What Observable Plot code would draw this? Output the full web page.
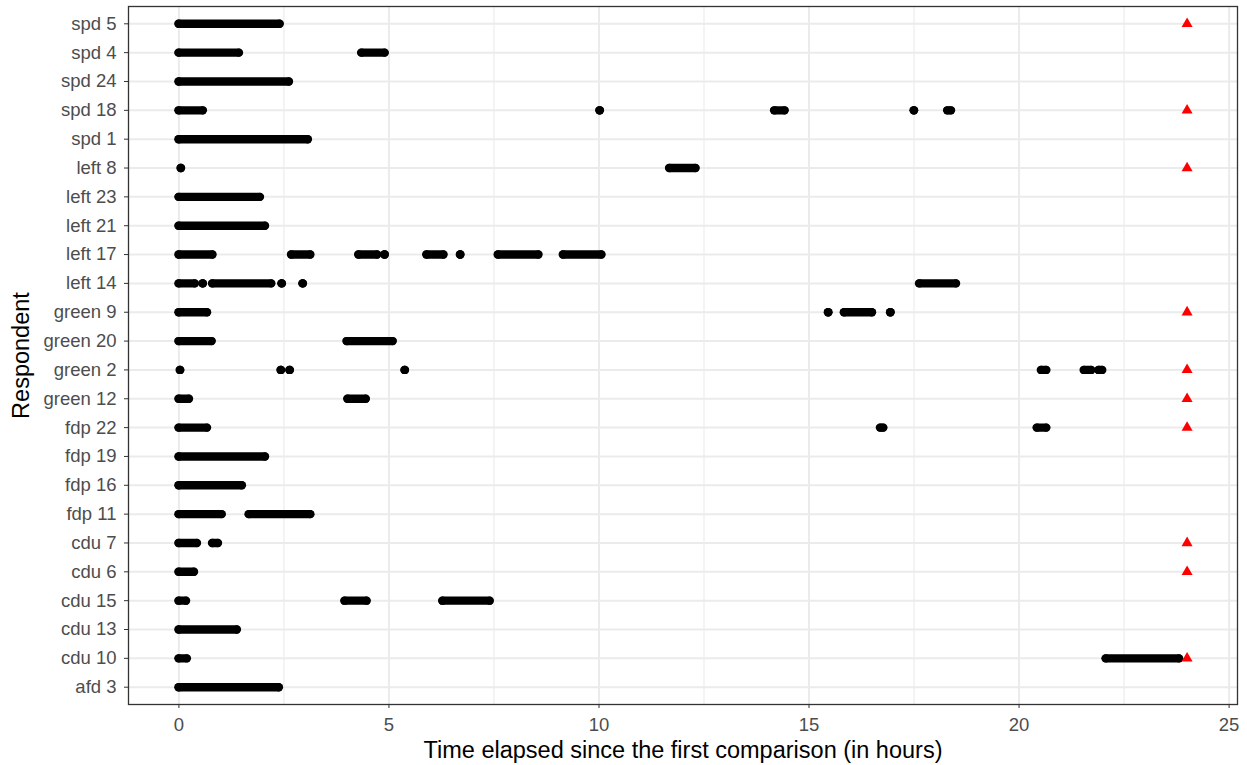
<!DOCTYPE html>
<html>
<head>
<meta charset="utf-8">
<script src="https://cdn.jsdelivr.net/npm/d3@7"></script>
<script src="https://cdn.jsdelivr.net/npm/@observablehq/plot@0.6"></script>
<style>
  html, body { margin: 0; padding: 0; background: #fff; }
  #chart { width: 1247px; height: 765px; }
</style>
</head>
<body>
<div id="chart"></div>
<script>
// Categories, top to bottom
const respondents = ["spd 5","spd 4","spd 24","spd 18","spd 1","left 8","left 23","left 21","left 17","left 14",
  "green 9","green 20","green 2","green 12","fdp 22","fdp 19","fdp 16","fdp 11","cdu 7","cdu 6","cdu 15","cdu 13","cdu 10","afd 3"];

// Runs of comparisons (start and end time in hours); single comparisons have start == end
const segRespondent = [
  "spd 5",
  "spd 4","spd 4",
  "spd 24",
  "spd 18","spd 18","spd 18","spd 18","spd 18",
  "spd 1",
  "left 8","left 8",
  "left 23",
  "left 21",
  "left 17","left 17","left 17","left 17","left 17","left 17","left 17","left 17",
  "left 14","left 14","left 14","left 14","left 14","left 14",
  "green 9","green 9","green 9","green 9",
  "green 20","green 20",
  "green 2","green 2","green 2","green 2","green 2","green 2","green 2",
  "green 12","green 12",
  "fdp 22","fdp 22","fdp 22",
  "fdp 19",
  "fdp 16",
  "fdp 11","fdp 11",
  "cdu 7","cdu 7",
  "cdu 6",
  "cdu 15","cdu 15","cdu 15",
  "cdu 13",
  "cdu 10","cdu 10",
  "afd 3"
];
const segStart = [
  0,
  0, 4.35,
  0,
  0, 10.02, 14.18, 17.5, 18.3,
  0,
  0.05, 11.68,
  0,
  0,
  0, 2.68, 4.28, 4.9, 5.9, 6.7, 7.6, 9.15,
  0, 0.57, 0.8, 2.45, 2.95, 17.63,
  0, 15.46, 15.84, 16.94,
  0, 4.0,
  0.03, 2.43, 2.64, 5.38, 20.53, 21.55, 21.9,
  0, 4.02,
  0, 16.7, 20.43,
  0,
  0,
  0, 1.67,
  0, 0.8,
  0,
  0, 3.95, 6.28,
  0,
  0, 22.07,
  0
];
const segEnd = [
  2.4,
  1.43, 4.9,
  2.62,
  0.57, 10.02, 14.42, 17.5, 18.38,
  3.07,
  0.05, 12.3,
  1.93,
  2.05,
  0.8, 3.13, 4.72, 4.9, 6.3, 6.7, 8.56, 10.06,
  0.38, 0.57, 2.2, 2.45, 2.95, 18.5,
  0.67, 15.46, 16.5, 16.94,
  0.78, 5.09,
  0.03, 2.43, 2.64, 5.38, 20.65, 21.72, 21.98,
  0.24, 4.45,
  0.67, 16.77, 20.65,
  2.05,
  1.5,
  1.02, 3.13,
  0.43, 0.93,
  0.36,
  0.17, 4.47, 7.4,
  1.38,
  0.19, 23.81,
  2.38
];

// Respondents censored at the end of the observation window
const censoredRespondents = ["spd 5","spd 18","left 8","green 9","green 2","green 12","fdp 22","cdu 7","cdu 6","cdu 10"];
const censorTime = 24;

const xTicks = [0, 5, 10, 15, 20, 25];
const xMinorTicks = [2.5, 7.5, 12.5, 17.5, 22.5];

// row index: 0 = top row
const rowOf = r => respondents.indexOf(r);
const rows = respondents.map((r, i) => i);
const segments = segRespondent.map((r, i) => ({row: rowOf(r), start: segStart[i], end: segEnd[i]}));
const censored = censoredRespondents.map(r => ({row: rowOf(r), time: censorTime}));

const DOT_R = 4.2;
const n = respondents.length;

const chart = Plot.plot({
  width: 1247,
  height: 765,
  marginLeft: 128,
  marginRight: 10,
  marginTop: 6,
  marginBottom: 61,
  style: {fontFamily: "'Liberation Sans', Arial, Helvetica, sans-serif", background: "#fff"},
  x: {domain: [-1.2, 25.2], ticks: xTicks},
  // ggplot discrete expansion: 0.6 of a step on each side
  y: {type: "linear", domain: [n - 1 + 0.6, -0.6]},
  marks: [
    Plot.ruleX(xMinorTicks, {stroke: "#ebebeb", strokeWidth: 1.1}),
    Plot.ruleX(xTicks, {stroke: "#ebebeb", strokeWidth: 2}),
    Plot.ruleY(rows, {y: d => d, stroke: "#ebebeb", strokeWidth: 2}),
    Plot.ruleY(segments, {y: "row", x1: "start", x2: "end", stroke: "#000", strokeWidth: DOT_R * 2, strokeLinecap: "round"}),
    Plot.dot(segments, {y: "row", x: "start", r: DOT_R, fill: "#000", stroke: "none"}),
    Plot.dot(segments, {y: "row", x: "end", r: DOT_R, fill: "#000", stroke: "none"}),
    Plot.dot(censored, {y: "row", x: "time", symbol: "triangle", r: 4.1, fill: "#ff0000", stroke: "none"}),
    Plot.frame({stroke: "#333333", strokeWidth: 1.3}),
    Plot.axisX({
      ticks: xTicks, tickSize: 4, tickPadding: 9, fontSize: 18.5, color: "#4d4d4d", stroke: "#333333",
      label: "Time elapsed since the first comparison (in hours)", labelAnchor: "center", labelArrow: "none", labelOffset: 53
    }),
    Plot.axisY({
      ticks: rows, tickFormat: i => respondents[i],
      tickSize: 4, tickPadding: 8, fontSize: 18.5, color: "#4d4d4d", stroke: "#333333",
      label: "Respondent", labelAnchor: "center", labelArrow: "none", labelOffset: 116
    })
  ]
});

// Axis title styling (ggplot: black, larger than tick labels)
d3.select(chart).selectAll("g[aria-label='x-axis label'] text, g[aria-label='y-axis label'] text")
  .attr("fill", "#000").style("font-size", "23.5px");
d3.select(chart).selectAll("g[aria-label='x-axis tick label'], g[aria-label='y-axis tick label']")
  .attr("fill", "#4d4d4d");

document.getElementById("chart").appendChild(chart);
</script>
</body>
</html>
